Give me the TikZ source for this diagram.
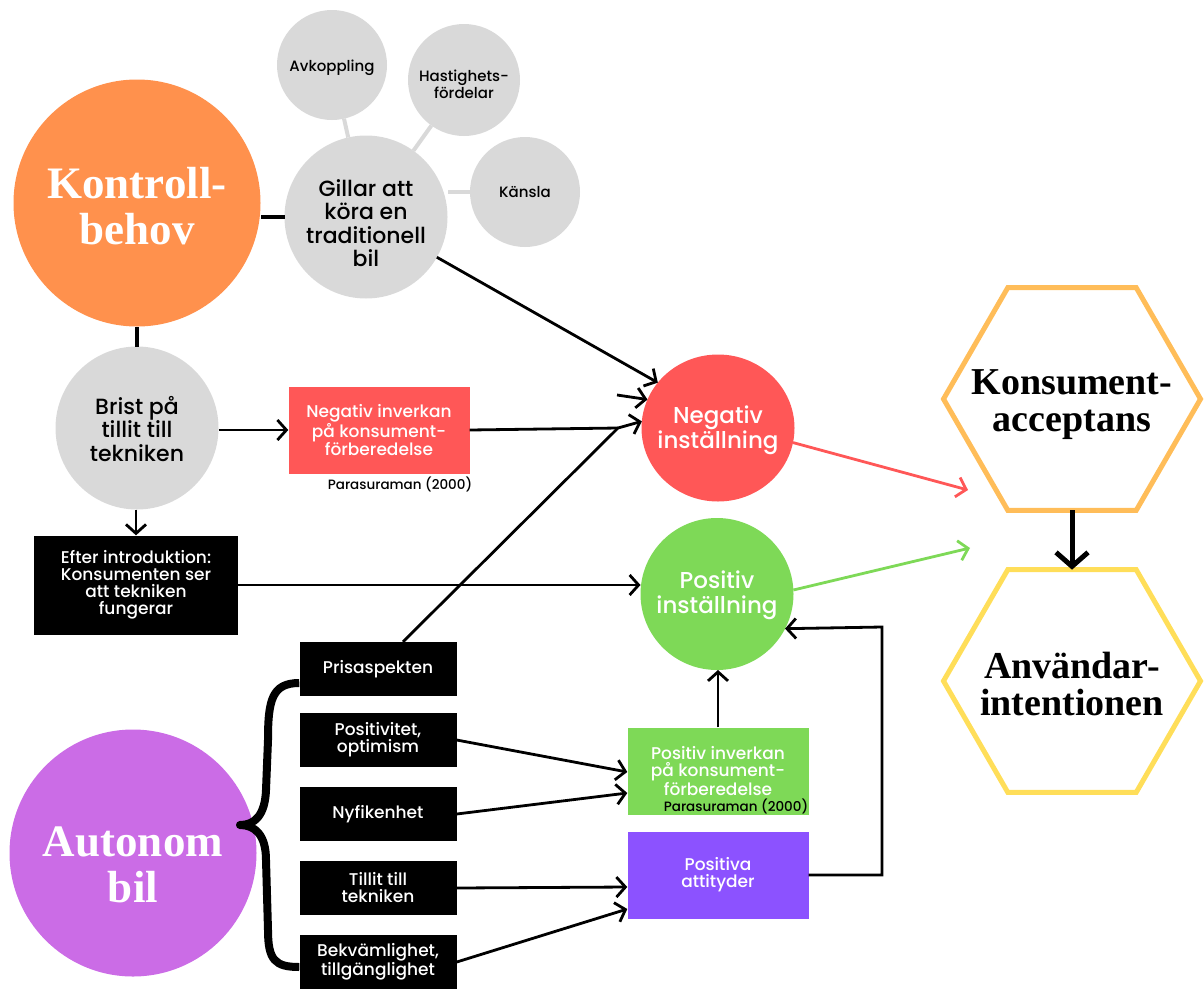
\documentclass[tikz,border=0pt]{standalone}
\usepackage{fontspec}
\setmainfont{Poppins}[UprightFont={* Medium}]
\newfontfamily\titelfont{Liberation Serif}
\usetikzlibrary{arrows.meta,shapes.geometric}
\definecolor{kontrollorange}{HTML}{FF914D}
\definecolor{ljusgra}{HTML}{D9D9D9}
\definecolor{negrod}{HTML}{FF5757}
\definecolor{posgron}{HTML}{7ED957}
\definecolor{autolila}{HTML}{CB6CE6}
\definecolor{attlila}{HTML}{8C52FF}
\definecolor{hexorange}{HTML}{FFBD59}
\definecolor{hexgul}{HTML}{FFDE59}
\tikzset{
  rund/.style={
    ellipse,
    inner sep=0pt,
    outer sep=0pt
  },
  bubbla/.style={
    rund,
    fill=ljusgra
  },
  titel/.style={
    text=white,
    align=center,
    font=\titelfont\bfseries\fontsize{45}{46}\selectfont
  },
  mellantext/.style={
    align=center,
    font=\fontsize{22}{23.5}\selectfont
  },
  bubbeltext/.style={
    align=center,
    font=\fontsize{15}{15}\selectfont
  },
  svartext/.style={
    text=white,
    align=center,
    font=\fontsize{23}{25}\selectfont
  },
  ruta/.style={
    text=white,
    align=center,
    inner sep=0pt,
    minimum width=181pt,
    minimum height=87pt,
    font=\fontsize{17}{17}\selectfont
  },
  faktor/.style={
    fill=black,
    text=white,
    align=center,
    inner sep=0pt,
    minimum width=157pt,
    minimum height=54pt,
    font=\fontsize{17}{17}\selectfont
  },
  kalla/.style={
    inner sep=0pt,
    font=\fontsize{13.5}{13.5}\selectfont
  },
  hexa/.style={
    regular polygon,
    regular polygon sides=6,
    minimum size=257pt,
    inner sep=0pt,
    outer sep=0pt,
    line width=5pt
  },
  hexatext/.style={
    align=center,
    font=\titelfont\bfseries\fontsize{38}{37}\selectfont
  },
  stam/.style={
    line width=4pt
  },
  gren/.style={
    line width=4pt,
    ljusgra
  },
  pil/.style={
    -{Straight Barb[length=9pt,width=20pt]},
    line width=2.8pt
  }
}

\begin{document}
\begin{tikzpicture}[x=1pt,y=-1pt]
\useasboundingbox (0,0) rectangle (1204,988);

\node[rund, fill=kontrollorange, minimum width=247pt, minimum height=247pt,
  label={[titel, yshift=-3pt]center:{Kontroll-\\behov}}] (kontroll) at (137,203) {};
\node[bubbla, minimum width=163pt, minimum height=163pt,
  label={[mellantext, yshift=-6pt]center:{Gillar att\\köra en\\traditionell\\bil}}] (gillar) at (366,217) {};
\node[bubbla, minimum width=110pt, minimum height=110pt,
  label={[bubbeltext, yshift=-3pt]center:Avkoppling}] (avkoppling) at (332,65) {};
\node[bubbla, minimum width=112pt, minimum height=112pt,
  label={[bubbeltext, yshift=-4pt]center:{Hastighets-\\fördelar}}] (hastighet) at (464,80) {};
\node[bubbla, minimum width=110pt, minimum height=110pt,
  label={[bubbeltext]center:Känsla}] (kansla) at (525,192) {};
\node[bubbla, minimum width=163pt, minimum height=163pt,
  label={[mellantext, yshift=-1pt]center:{Brist på\\tillit till\\tekniken}}] (brist) at (137,428) {};

\node[ruta, fill=negrod] (negruta) at (379,430) {Negativ inverkan\\på konsument-\\förberedelse};
\node[kalla] (kalla1) at (400,484) {Parasuraman (2000)};
\node[faktor, minimum width=204pt, minimum height=99pt] (efter) at (136,585) {Efter introduktion:\\Konsumenten ser\\att tekniken\\fungerar};

\node[rund, fill=negrod, minimum width=153pt, minimum height=147pt,
  label={[svartext, yshift=-2pt]center:{Negativ\\inställning}}] (neg) at (718,428) {};
\node[rund, fill=posgron, minimum width=153pt, minimum height=152pt,
  label={[svartext, yshift=-1pt]center:{Positiv\\inställning}}] (pos) at (717,594) {};

\node[faktor] (prisa) at (378,669) {Prisaspekten};
\node[faktor] (positivitet) at (378,740) {Positivitet,\\optimism};
\node[faktor] (nyfiken) at (378,814) {Nyfikenhet};
\node[faktor] (tillit) at (378,888) {Tillit till\\tekniken};
\node[faktor] (bekvam) at (378,962) {Bekvämlighet,\\tillgänglighet};

\node[ruta, fill=posgron] (posruta) at (718,771) {Positiv inverkan\\på konsument-\\förberedelse};
\node[kalla] (kalla2) at (736,806) {Parasuraman (2000)};
\node[ruta, fill=attlila] (attityder) at (718,875) {Positiva\\attityder};

\node[rund, fill=autolila, minimum width=247pt, minimum height=247pt,
  label={[titel, yshift=-12pt]center:{Autonom\\bil}}] (autonom) at (133,853) {};

\node[hexa, draw=hexorange,
  label={[hexatext, yshift=-6pt]center:{Konsument-\\acceptans}}] (acceptans) at (1072,399) {};
\node[hexa, draw=hexgul,
  label={[hexatext, yshift=-3pt]center:{Användar-\\intentionen}}] (intention) at (1072,681) {};

\coordinate (losande) at (617,395);
\coordinate (mote) at (618,428);
\coordinate (negslut) at (968,490);
\coordinate (posslut) at (970,548);
\coordinate (varv) at (882,627);
\coordinate (klammerspets) at (240,825);

\draw[gren] (avkoppling) -- (gillar);
\draw[gren] (hastighet) -- (gillar);
\draw[gren] (kansla.west) -- (kansla.west -| gillar.east);
\draw[stam] (gillar.west) -- (gillar.west -| kontroll.east);
\draw[stam] (kontroll.south) -- (kontroll.south |- brist.north);

\draw[pil] (brist.east |- negruta.west) -- (negruta.west);
\draw[pil] (brist.south -| efter.north) -- (efter.north);
\draw[line width=2.8pt] (negruta.east) -- (mote);
\draw[pil] ([xshift=25pt]prisa.north) -- (mote) -- (neg.175);
\draw[pil] (gillar) -- (neg.143);
\draw[pil] (losande) -- (neg.158);
\draw[pil] (efter.east) -- (efter.east -| pos.west);

\draw[pil, negrod] (neg.-11) -- (negslut);
\draw[pil, posgron] (pos.3) -- (posslut);
\draw[-{Straight Barb[length=14pt,width=32pt]}, line width=5pt] (acceptans.south) -- (intention.north);

\draw[pil] (positivitet.east) -- ([yshift=-1pt]posruta.west);
\draw[pil] (nyfiken.east) -- ([yshift=-22pt]posruta.west);
\draw[pil] (tillit.east) -- ([yshift=-12pt]attityder.west);
\draw[pil] (bekvam.east) -- ([yshift=-34pt]attityder.west);
\draw[pil] (posruta.north) -- (posruta.north |- pos.south);
\draw[pil] (attityder.east) -| (varv) -- (pos.-27);

\draw[line width=8pt, line join=round]
  ([yshift=-14pt]prisa.west) .. controls (272,683) and (268,700) .. (268,740)
  -- (266,790) .. controls (265,815) and (255,825) .. (klammerspets)
  .. controls (255,825) and (266,835) .. (266,860)
  -- (268,930) .. controls (268,960) and (275,967) .. ([yshift=-5pt]bekvam.west);
\end{tikzpicture}
\end{document}
